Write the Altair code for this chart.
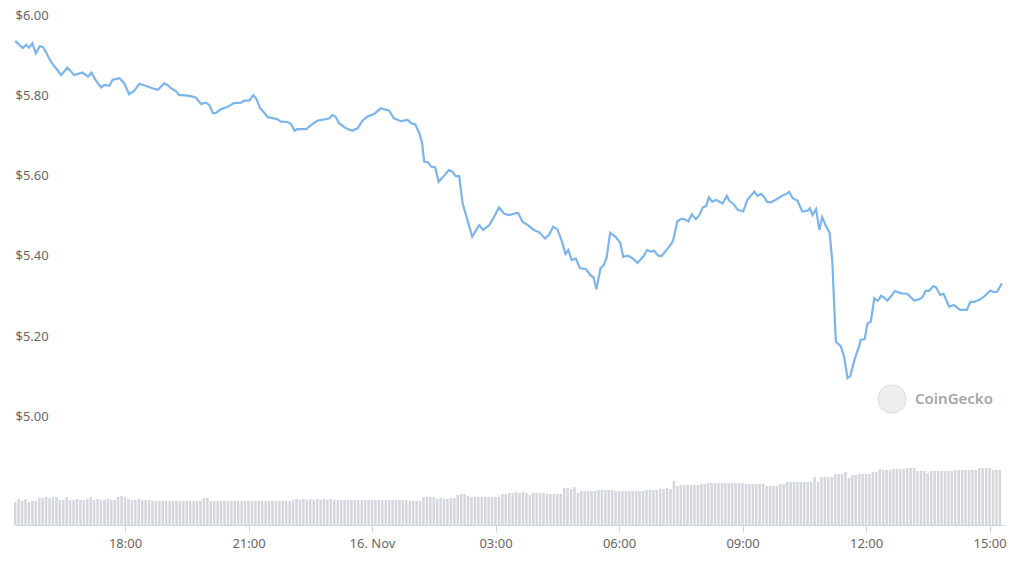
import altair as alt
import pandas as pd

# ---- price line (time of day, USD) ----
price_time = [
    "15:20", "15:31", "15:36", "15:40", "15:45", "15:50", "15:56", "16:01", "16:12", "16:27",
    "16:36", "16:46", "16:58", "17:06", "17:11", "17:17", "17:25", "17:30", "17:37", "17:42",
    "17:52", "17:59", "18:06", "18:13", "18:21", "18:30", "18:40", "18:48", "18:57", "19:02",
    "19:07", "19:14", "19:19", "19:24", "19:34", "19:43", "19:51", "19:58", "20:03", "20:08",
    "20:12", "20:20", "20:29", "20:39", "20:49", "20:54", "21:01", "21:07", "21:11", "21:17",
    "21:23", "21:28", "21:37", "21:42", "21:47", "21:57", "22:02", "22:07", "22:11", "22:24",
    "22:31", "22:40", "22:53", "22:58", "23:02", "23:07", "23:12", "23:22", "23:31", "23:39",
    "23:46", "23:53",
    "00:03", "00:13", "00:25", "00:32", "00:42", "00:52", "00:57", "01:03", "01:09", "01:13",
    "01:16", "01:22", "01:26", "01:32", "01:37", "01:43", "01:52", "01:57", "02:02", "02:07",
    "02:12", "02:19", "02:26", "02:36", "02:42", "02:51", "02:58", "03:05", "03:13", "03:20",
    "03:30", "03:33", "03:39", "03:47", "03:56", "04:04", "04:12", "04:18", "04:24", "04:30",
    "04:36", "04:42", "04:46", "04:51", "04:57", "05:03", "05:12", "05:18", "05:23", "05:27",
    "05:33", "05:38", "05:42", "05:47", "05:55", "06:02", "06:06", "06:13", "06:20", "06:27",
    "06:36", "06:41", "06:46", "06:51", "06:57", "07:02", "07:11", "07:16", "07:19", "07:25",
    "07:30", "07:35", "07:41", "07:46", "07:52", "07:57", "08:02", "08:07", "08:11", "08:16",
    "08:21", "08:31", "08:37", "08:41", "08:46", "08:53", "09:01", "09:07", "09:17", "09:22",
    "09:27", "09:31", "09:36", "09:41", "09:49", "09:58", "10:05", "10:08", "10:13", "10:20",
    "10:27", "10:35", "10:38", "10:42", "10:47", "10:52", "10:56", "11:01", "11:07", "11:11",
    "11:13", "11:16", "11:18", "11:23", "11:28", "11:33", "11:37", "11:43", "11:50", "11:52",
    "11:58", "12:02", "12:07", "12:12", "12:17", "12:22", "12:26", "12:31", "12:36", "12:42",
    "12:51", "13:00", "13:10", "13:17", "13:22", "13:27", "13:32", "13:38", "13:42", "13:48",
    "13:53", "14:01", "14:08", "14:17", "14:27", "14:32", "14:38", "14:45", "14:52", "15:01",
    "15:06", "15:11", "15:18",
]
price_usd = [
    5.953, 5.935, 5.943, 5.936, 5.947, 5.922, 5.940, 5.937, 5.901, 5.868,
    5.886, 5.868, 5.874, 5.864, 5.874, 5.856, 5.837, 5.843, 5.841, 5.856,
    5.860, 5.847, 5.820, 5.828, 5.846, 5.841, 5.835, 5.831, 5.847, 5.843,
    5.835, 5.828, 5.818, 5.818, 5.816, 5.812, 5.796, 5.799, 5.793, 5.773,
    5.773, 5.783, 5.788, 5.798, 5.799, 5.804, 5.804, 5.818, 5.810, 5.785,
    5.774, 5.763, 5.760, 5.758, 5.752, 5.751, 5.746, 5.729, 5.733, 5.733,
    5.743, 5.754, 5.758, 5.760, 5.768, 5.764, 5.748, 5.735, 5.729, 5.735,
    5.754, 5.764,
    5.771, 5.785, 5.779, 5.760, 5.753, 5.756, 5.748, 5.745, 5.723, 5.698,
    5.652, 5.650, 5.640, 5.638, 5.602, 5.613, 5.631, 5.627, 5.616, 5.616,
    5.548, 5.507, 5.465, 5.494, 5.482, 5.494, 5.515, 5.538, 5.522, 5.519,
    5.524, 5.524, 5.503, 5.494, 5.482, 5.476, 5.461, 5.470, 5.490, 5.484,
    5.457, 5.422, 5.432, 5.407, 5.411, 5.387, 5.384, 5.370, 5.363, 5.334,
    5.387, 5.395, 5.414, 5.475, 5.465, 5.449, 5.415, 5.418, 5.411, 5.400,
    5.417, 5.432, 5.428, 5.430, 5.418, 5.417, 5.436, 5.447, 5.457, 5.503,
    5.509, 5.509, 5.503, 5.521, 5.509, 5.519, 5.538, 5.542, 5.563, 5.552,
    5.557, 5.548, 5.567, 5.554, 5.548, 5.532, 5.528, 5.557, 5.577, 5.567,
    5.572, 5.565, 5.552, 5.551, 5.558, 5.567, 5.573, 5.577, 5.561, 5.555,
    5.528, 5.530, 5.536, 5.519, 5.534, 5.482, 5.514, 5.494, 5.474, 5.399,
    5.316, 5.204, 5.200, 5.193, 5.166, 5.113, 5.118, 5.158, 5.193, 5.208,
    5.210, 5.248, 5.254, 5.312, 5.305, 5.318, 5.314, 5.306, 5.316, 5.330,
    5.324, 5.323, 5.306, 5.309, 5.314, 5.331, 5.330, 5.342, 5.339, 5.320,
    5.323, 5.291, 5.295, 5.283, 5.283, 5.303, 5.303, 5.308, 5.316, 5.331,
    5.327, 5.328, 5.349,
]

# ---- 5-minute volume bars (relative units), from 15:20 on 15 Nov ----
volume = [
    23, 26, 24, 26, 23, 24, 24, 27, 27, 28, 27, 28, 28, 25, 25, 28, 25, 25, 26, 25,
    25, 26, 28, 25, 26, 25, 25, 26, 25, 25, 28, 29, 28, 26, 25, 25, 26, 25, 25, 25,
    24, 24, 24, 24, 24, 24, 24, 24, 24, 24, 24, 24, 24, 24, 24, 27, 27, 24, 24, 24,
    24, 24, 24, 24, 24, 24, 24, 24, 24, 24, 24, 24, 24, 24, 24, 24, 24, 24, 24, 24,
    24, 25, 26, 25, 26, 25, 26, 25, 26, 25, 26, 25, 26, 25, 25, 25, 25, 25, 25, 25,
    25, 25, 25, 25, 25, 25, 25, 25, 25, 25, 25, 25, 25, 25, 25, 24, 24, 24, 24, 28,
    28, 28, 28, 26, 27, 26, 26, 27, 27, 30, 31, 31, 29, 28, 28, 28, 28, 28, 28, 28,
    28, 28, 31, 31, 32, 32, 33, 32, 33, 32, 30, 32, 32, 32, 32, 31, 31, 31, 31, 31,
    37, 37, 36, 38, 32, 34, 34, 34, 34, 34, 35, 35, 35, 35, 35, 34, 34, 34, 34, 34,
    34, 34, 34, 34, 35, 35, 35, 35, 36, 36, 37, 36, 44, 39, 40, 40, 40, 40, 40, 40,
    41, 41, 42, 42, 42, 42, 42, 42, 42, 42, 42, 42, 42, 41, 41, 41, 41, 41, 41, 39,
    39, 39, 39, 41, 41, 43, 43, 43, 43, 43, 43, 43, 43, 48, 43, 48, 48, 48, 48, 51,
    51, 51, 53, 47, 50, 50, 51, 51, 51, 51, 53, 53, 56, 55, 55, 55, 56, 56, 56, 56,
    57, 57, 57, 54, 54, 54, 52, 54, 54, 54, 54, 54, 54, 54, 55, 55, 55, 55, 55, 55,
    55, 57, 57, 57, 57, 55, 55, 55,
]

y_ticks = [5.0, 5.2, 5.4, 5.6, 5.8, 6.0]
x_tick_days = [15, 15, 16, 16, 16, 16, 16, 16]
x_tick_hours = [18, 21, 0, 3, 6, 9, 12, 15]
watermark = ["CoinGecko"]

# ---- build tables ----
stamps = []
day = 15
prev = None
for t in price_time:
    if prev is not None and t < prev:
        day = 16
    stamps.append(pd.Timestamp(f"2021-11-{day} {t}"))
    prev = t
price_df = pd.DataFrame({"time": stamps, "price": price_usd})
vol_df = pd.DataFrame({
    "time": pd.date_range("2021-11-15 15:20", periods=len(volume), freq="5min"),
    "volume": volume,
})

FONT = "Noto Sans"
LABEL = "#666666"

x_values = [alt.DateTime(year=2021, month=11, date=d, hours=h) for d, h in zip(x_tick_days, x_tick_hours)]
x_scale = alt.Scale(
    domain=[
        alt.DateTime(year=2021, month=11, date=15, hours=15, minutes=19, seconds=40),
        alt.DateTime(year=2021, month=11, date=16, hours=15, minutes=22, seconds=30),
    ],
    padding=0,
)
x_axis = alt.Axis(
    values=x_values,
    labelExpr="hours(datum.value) == 0 ? '16. Nov' : timeFormat(datum.value, '%H:%M')",
    grid=False, domainColor="#ccd6eb", tickColor="#ccd6eb", tickSize=7,
    labelColor=LABEL, labelFontSize=13, labelFont=FONT, labelPadding=5,
    labelFlush=False, labelOverlap=False, title=None,
)

bars = alt.Chart(vol_df).mark_bar(width=2.5, color="#d3d7dc").encode(
    x=alt.X("time:T", scale=x_scale, axis=x_axis),
    y=alt.Y("volume:Q", scale=alt.Scale(domain=[0, 503], nice=False), axis=None),
)

line = alt.Chart(price_df).mark_line(color="#7cb5ec", strokeWidth=2.2).encode(
    x=alt.X("time:T", scale=x_scale, axis=x_axis),
    y=alt.Y(
        "price:Q",
        scale=alt.Scale(domain=[4.747, 6.0], nice=False, zero=False),
        axis=alt.Axis(
            values=y_ticks, format="$.2f", labelAlign="left", labelBaseline="alphabetic",
            labelPadding=0, labelOffset=-3, ticks=False, tickSize=0, domain=False,
            gridColor="#ebebeb", gridWidth=1, labelColor=LABEL, labelFontSize=13,
            labelFont=FONT, labelFlush=False, title=None,
        ),
    ),
)

wm_df = pd.DataFrame({"label": watermark})
logo = alt.Chart(wm_df).mark_point(
    shape="circle", filled=True, size=800, color="#eeeeee", stroke="#dddddd", strokeWidth=1, opacity=1
).encode(x=alt.value(877), y=alt.value(377))
logo_text = alt.Chart(wm_df).mark_text(
    align="left", baseline="middle", fontSize=15, font=FONT, fontWeight=600, color="#a6a6a6"
).encode(x=alt.value(900), y=alt.value(377), text="label:N")

chart = (
    alt.layer(bars, line, logo, logo_text)
    .resolve_scale(y="independent")
    .properties(
        width=990, height=503,
        autosize=alt.AutoSizeParams(type="none"),
        padding={"left": 15, "top": 22, "right": 19, "bottom": 45},
        background="white",
    )
    .configure_view(stroke=None)
)

chart.save("out.html", embed_options={"renderer": "svg", "actions": False})
